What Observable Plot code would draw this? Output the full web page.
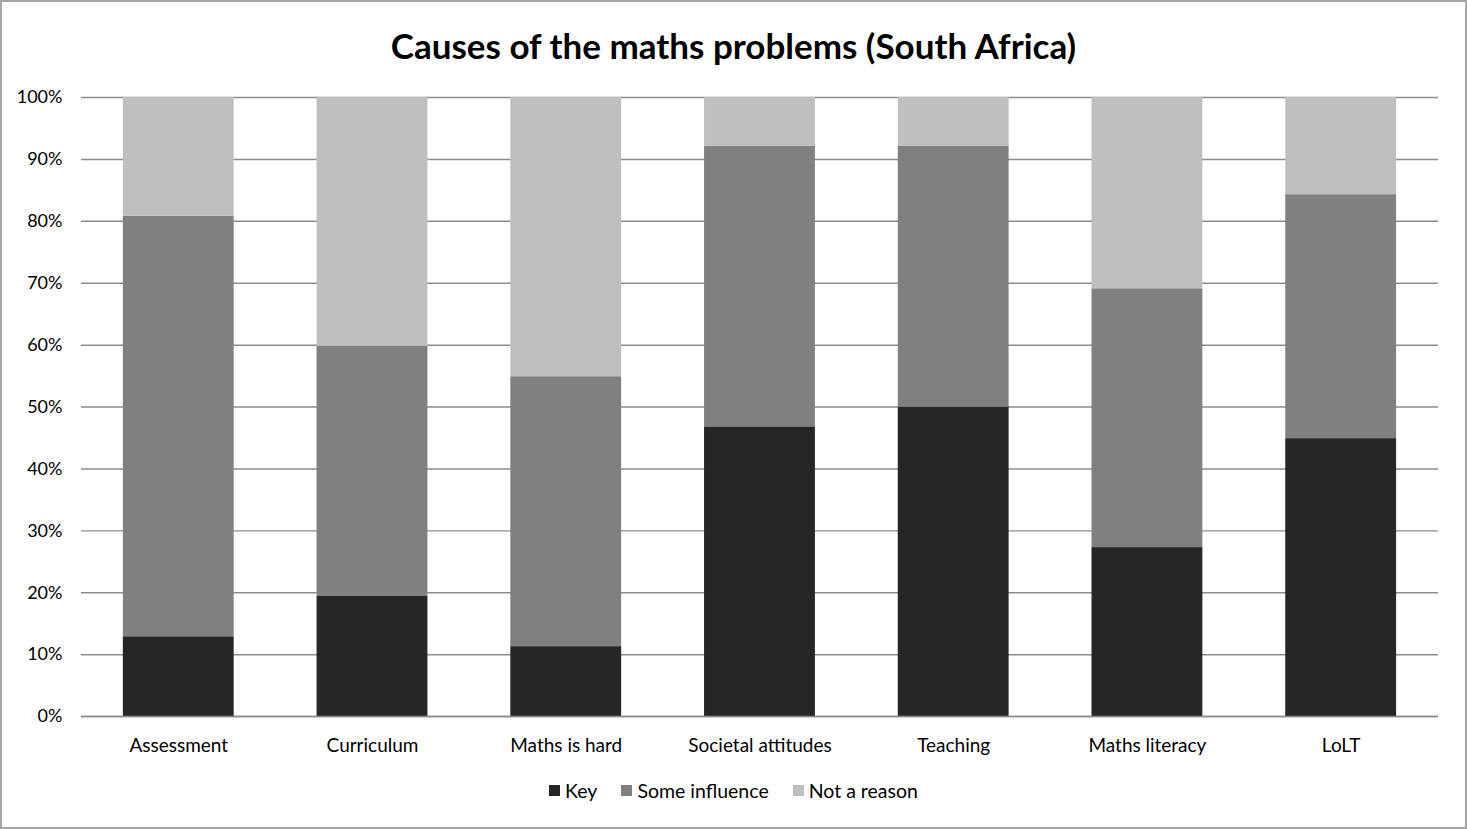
<!DOCTYPE html>
<html><head><meta charset="utf-8">
<script src="https://cdn.jsdelivr.net/npm/d3@7"></script>
<script src="https://cdn.jsdelivr.net/npm/@observablehq/plot@0.6"></script>
<style>
html,body{margin:0;padding:0;background:#fff;}
#frame{position:relative;width:1463px;height:825px;border:2px solid #a6a6a6;overflow:hidden;font-family:Lato,"Open Sans",sans-serif;}
#title{position:absolute;left:0;top:22px;width:1463px;text-align:center;font-size:35px;font-weight:bold;color:#000;}
#chart{position:absolute;left:-2px;top:74px;}
#legend{position:absolute;left:0;top:777px;width:1463px;display:flex;justify-content:center;gap:24px;font-size:19.5px;color:#000;}
#legend span.item{display:flex;align-items:center;}
#legend span.sw{display:inline-block;width:11px;height:11px;margin-right:5px;}
</style></head>
<body>
<div id="frame">
<div id="title">Causes of the maths problems (South Africa)</div>
<div id="chart"></div>
<div id="legend"></div>
</div>
<script>
const categories = ["Assessment","Curriculum","Maths is hard","Societal attitudes","Teaching","Maths literacy","LoLT"];
const seriesNames = ["Key","Some influence","Not a reason"];
const keyValues = [12.9, 19.4, 11.3, 46.8, 50.0, 27.3, 44.9];
const someValues = [67.9, 40.4, 43.6, 45.3, 42.1, 41.8, 39.4];
const notValues = [19.2, 40.2, 45.1, 7.9, 7.9, 30.9, 15.7];
const colors = ["#262626","#808080","#bfbfbf"];
const yTicks = [0,10,20,30,40,50,60,70,80,90,100];

const series = [keyValues, someValues, notValues];
const data = [];
seriesNames.forEach((s, si) => categories.forEach((c, ci) => data.push({category: c, series: s, value: series[si][ci]})));

const plot = Plot.plot({
  width: 1467,
  height: 695,
  marginTop: 21,
  marginBottom: 54,
  marginLeft: 81,
  marginRight: 27,
  style: {fontFamily: "Lato, 'Open Sans', sans-serif", fontSize: "19px", color: "#000", background: "transparent"},
  x: {domain: categories, paddingInner: 0.428, paddingOuter: 0.214, label: null, tickSize: 0, tickPadding: 22},
  y: {domain: [0, 100], ticks: yTicks, tickFormat: d => d + "%", label: null, tickSize: 0, tickPadding: 19},
  color: {domain: seriesNames, range: colors},
  marks: [
    Plot.ruleY(yTicks, {stroke: "#8c8c8c", strokeWidth: 1.5}),
    Plot.barY(data, {x: "category", y: "value", fill: "series", order: seriesNames, style: "filter: drop-shadow(1px 1px 1.5px rgba(0,0,0,0.25))"}),
    Plot.ruleY([0], {stroke: "#8c8c8c", strokeWidth: 1.5})
  ]
});
plot.querySelectorAll("g[aria-label='y-axis tick label'] text").forEach(t => t.style.fontSize = "18px");
document.getElementById("chart").appendChild(plot);

const legend = document.getElementById("legend");
seriesNames.forEach((s, i) => {
  const item = document.createElement("span");
  item.className = "item";
  const sw = document.createElement("span");
  sw.className = "sw";
  sw.style.background = colors[i];
  item.appendChild(sw);
  item.appendChild(document.createTextNode(s));
  legend.appendChild(item);
});
</script>
</body></html>
